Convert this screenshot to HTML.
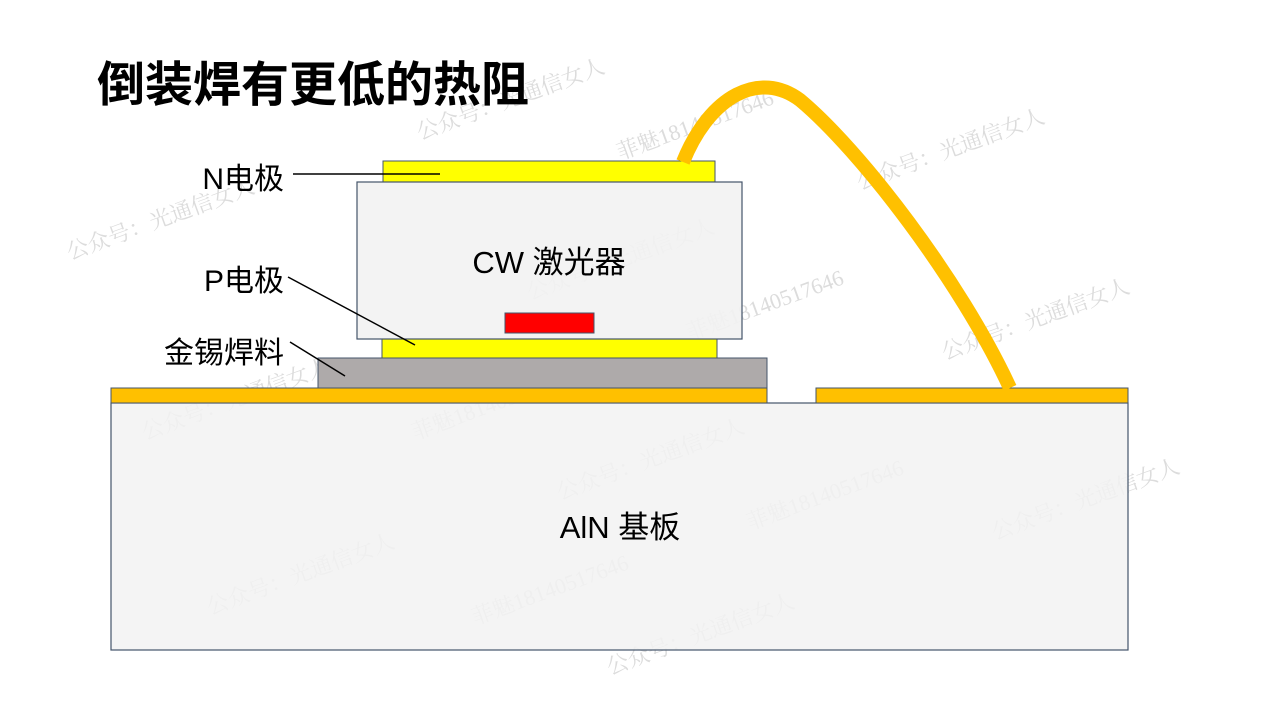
<!DOCTYPE html>
<html><head><meta charset="utf-8"><style>
body{margin:0;width:1269px;height:714px;background:#fff;overflow:hidden;position:relative;font-family:"Liberation Sans","Noto Sans CJK SC",sans-serif}
</style></head><body>
<svg width="1269" height="714" style="position:absolute;left:0;top:0" font-family="Liberation Sans, Noto Sans CJK SC, sans-serif">
<g fill="#dcdcdc" font-size="22" font-family="Liberation Serif, Noto Serif CJK SC, serif">
<text transform="translate(420,140) rotate(-20)">公众号：光通信女人</text>
<text transform="translate(620,160) rotate(-20)">菲魅18140517646</text>
<text transform="translate(860,190) rotate(-20)">公众号：光通信女人</text>
<text transform="translate(70,260) rotate(-20)">公众号：光通信女人</text>
<text transform="translate(530,300) rotate(-20)">公众号：光通信女人</text>
<text transform="translate(690,340) rotate(-20)">菲魅18140517646</text>
<text transform="translate(945,360) rotate(-20)">公众号：光通信女人</text>
<text transform="translate(145,440) rotate(-20)">公众号：光通信女人</text>
<text transform="translate(415,440) rotate(-20)">菲魅18140517646</text>
<text transform="translate(560,500) rotate(-20)">公众号：光通信女人</text>
<text transform="translate(750,530) rotate(-20)">菲魅18140517646</text>
<text transform="translate(995,540) rotate(-20)">公众号：光通信女人</text>
<text transform="translate(210,615) rotate(-20)">公众号：光通信女人</text>
<text transform="translate(475,625) rotate(-20)">菲魅18140517646</text>
<text transform="translate(610,675) rotate(-20)">公众号：光通信女人</text>
</g>
<text x="97" y="101" font-size="48" font-weight="bold" fill="#000">倒装焊有更低的热阻</text>
<rect x="111" y="403" width="1017" height="247" fill="#f2f2f2" fill-opacity="0.85" stroke="#44546a" stroke-width="1.2"/>
<rect x="111" y="388" width="656" height="15" fill="#ffc000" stroke="#44546a" stroke-width="1"/>
<rect x="816" y="388" width="312" height="15" fill="#ffc000" stroke="#44546a" stroke-width="1"/>
<rect x="318" y="358" width="449" height="30" fill="#aeaaaa" stroke="#44546a" stroke-width="1"/>
<rect x="382" y="339" width="335" height="19" fill="#ffff00" stroke="#44546a" stroke-width="1"/>
<rect x="383" y="161" width="332" height="21" fill="#ffff00" stroke="#44546a" stroke-width="1"/>
<rect x="357" y="182" width="385" height="157" fill="#f2f2f2" fill-opacity="0.9" stroke="#44546a" stroke-width="1.2"/>
<rect x="505" y="313" width="89" height="20" fill="#ff0000" stroke="#44546a" stroke-width="1"/>
<path d="M683,162 C710,95 760,70 800,100 C860,150 960,280 1010,388" fill="none" stroke="#ffc000" stroke-width="14"/>
<text x="549" y="273" font-size="31" text-anchor="middle" fill="#000">CW 激光器</text>
<text x="620" y="538" font-size="31" text-anchor="middle" fill="#000">AlN 基板</text>
<text x="284" y="189" font-size="30" text-anchor="end">N电极</text>
<text x="284" y="291" font-size="30" text-anchor="end">P电极</text>
<text x="284" y="363" font-size="30" text-anchor="end">金锡焊料</text>
<g stroke="#000" stroke-width="1.5">
<line x1="293" y1="174" x2="440" y2="174"/>
<line x1="288" y1="277" x2="415" y2="345"/>
<line x1="290" y1="342" x2="345" y2="376"/>
</g>
</svg>
</body></html>
